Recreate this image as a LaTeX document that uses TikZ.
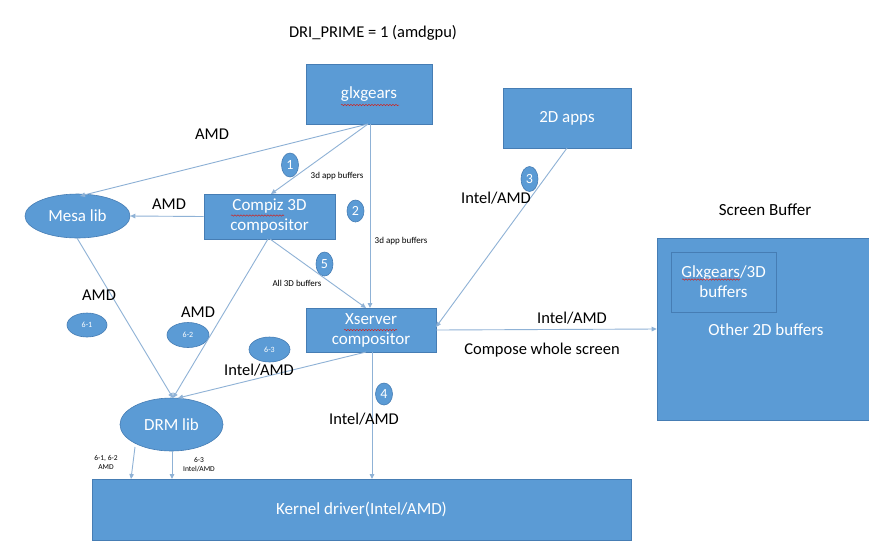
\documentclass[tikz,border=0pt]{standalone}
\usepackage{fontspec}
\setmainfont{Carlito}
\usetikzlibrary{arrows.meta,decorations.pathmorphing,shapes.geometric}
\definecolor{boxblue}{RGB}{91,155,213}
\definecolor{boxedge}{RGB}{70,125,180}
\definecolor{linkblue}{RGB}{143,178,214}
\definecolor{spellred}{RGB}{200,40,40}
\tikzset{
  blk/.style={fill=boxblue, draw=boxedge, line width=0.6pt, text=white, align=center, inner sep=0pt, font=\fontsize{17}{20}\selectfont},
  oval/.style={ellipse, fill=boxblue, draw=boxedge, line width=0.6pt, text=white, align=center, inner sep=0pt},
  num/.style={oval, font=\fontsize{14}{16}\selectfont},
  tag/.style={oval, font=\fontsize{8}{9}\selectfont},
  link/.style={draw=linkblue, line width=0.9pt, -{Triangle[length=5pt,width=4.5pt]}},
  big/.style={font=\fontsize{16.5}{19}\selectfont, inner sep=0pt},
  small/.style={font=\fontsize{9}{10.5}\selectfont, align=center, inner sep=0pt},
  squig/.style={draw=spellred, line width=0.5pt, decorate, decoration={snake, amplitude=0.7pt, segment length=3pt}}
}
\begin{document}
\begin{tikzpicture}[x=1pt,y=-1pt]
\useasboundingbox[fill=white] (0,0) rectangle (869,550);
% title
\node[font=\fontsize{16.5}{19}\selectfont] (title) at (373,33) {DRI\_PRIME = 1 (amdgpu)};
% boxes
\node[blk, minimum width=126pt, minimum height=60pt] (glx) at (369,94) {glxgears};
\node[blk, minimum width=128pt, minimum height=60pt] (apps) at (567,118) {2D apps};
\node[blk, minimum width=131pt, minimum height=45pt] (compiz) at (269.5,216.5) {Compiz 3D\\compositor};
\node[blk, minimum width=130pt, minimum height=44pt] (xs) at (371,330) {Xserver\\compositor};
\node[blk, minimum width=539pt, minimum height=61pt] (kern) at (361.5,509.5) {Kernel driver(Intel/AMD)};
\node[blk, minimum width=214pt, minimum height=182pt] (scr) at (764,329) {};
\node[draw=boxedge, line width=0.6pt, minimum width=105pt, minimum height=60pt, inner sep=0pt, text=white, align=center, font=\fontsize{17}{20}\selectfont] (inner) at (723.5,282) {Glxgears/3D\\buffers};
\node[text=white, font=\fontsize{17}{20}\selectfont] (other) at (766,330) {Other 2D buffers};
\node[font=\fontsize{17}{20}\selectfont] (sbl) at (765,210) {Screen Buffer};
% ellipses
\node[oval, minimum width=105pt, minimum height=44pt, font=\fontsize{17}{20}\selectfont] (mesa) at (77.5,216) {Mesa lib};
\node[oval, minimum width=103pt, minimum height=53pt, font=\fontsize{17}{20}\selectfont] (drm) at (171.5,424.5) {DRM lib};
% numbered markers
\node[num, minimum width=17pt, minimum height=24pt] (n1) at (290,165) {1};
\node[num, minimum width=17pt, minimum height=22pt] (n2) at (355.5,211) {2};
\node[num, minimum width=17pt, minimum height=25pt] (n3) at (529.5,179) {3};
\node[num, minimum width=17pt, minimum height=22pt] (n4) at (384,394) {4};
\node[num, minimum width=17pt, minimum height=24pt] (n5) at (324.5,264) {5};
\node[tag, minimum width=40pt, minimum height=24pt] (t61) at (87,325) {6-1};
\node[tag, minimum width=42pt, minimum height=25pt] (t62) at (188,335) {6-2};
\node[tag, minimum width=41pt, minimum height=25pt] (t63) at (269.5,349.5) {6-3};
% spell-check underlines
\draw[squig] (341,105) -- (399,105);
\draw[squig] (231,215.5) -- (284,215.5);
\draw[squig] (344,330) -- (397,330);
\draw[squig] (682,279.5) -- (740,279.5);
% connector anchors
\coordinate (gb) at (368,124);
\coordinate (gx) at (370,124);
\coordinate (cb) at (270,239);
\coordinate (cb2) at (268,239);
\coordinate (xt) at (370,308);
\coordinate (xt2) at (366,308);
\coordinate (xr) at (436,327);
\coordinate (xr2) at (436,330);
\coordinate (xb) at (372,352);
\coordinate (xb2) at (366,352);
\coordinate (mt) at (80,196);
\coordinate (mb) at (77,238);
\coordinate (dt) at (173,398);
\coordinate (dt2) at (178,398);
\coordinate (db1) at (135,447);
\coordinate (db2) at (172,451);
\coordinate (kt1) at (131,479);
\coordinate (kt2) at (172,479);
\coordinate (kt3) at (372,479);
\coordinate (ct) at (271,194);
\coordinate (ab) at (567,148);
% connectors
\draw[link] (gb) -- (mt);
\draw[link] (gb) -- (ct);
\draw[link] (gx) -- (xt);
\draw[link] (compiz.west) -- (mesa.east);
\draw[link] (cb) -- (xt2);
\draw[link] (cb2) -- (dt);
\draw[link] (mb) -- (dt);
\draw[link] (xb2) -- (dt2);
\draw[link] (ab) -- (xr);
\draw[link] (xr2) -- (scr.west);
\draw[link] (xb) -- (kt3);
\draw[link] (db1) -- (kt1);
\draw[link] (db2) -- (kt2);
% labels
\node[big] (l1) at (212,134) {AMD};
\node[small] (l2) at (337,176) {3d app buffers};
\node[big] (l3) at (169,204) {AMD};
\node[small] (l4) at (401,241) {3d app buffers};
\node[small] (l5) at (297,283) {All 3D buffers};
\node[big] (l6) at (99,295) {AMD};
\node[big] (l7) at (198,312) {AMD};
\node[big] (l8) at (259,370) {Intel/AMD};
\node[big] (l9) at (364,419) {Intel/AMD};
\node[big] (l10) at (496,198) {Intel/AMD};
\node[big] (l11) at (572,318) {Intel/AMD};
\node[big] (l12) at (542,350) {Compose whole screen};
\node[small, font=\fontsize{7.5}{9}\selectfont] (l13) at (106,462) {6-1, 6-2\\AMD};
\node[small, font=\fontsize{7.5}{9}\selectfont] (l14) at (199,465) {6-3\\Intel/AMD};
\end{tikzpicture}
\end{document}
